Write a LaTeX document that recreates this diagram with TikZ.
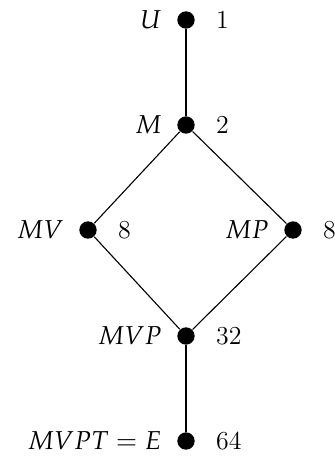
\documentclass[tikz,border=0pt]{standalone}
\usepackage{mathpazo}
\begin{document}
\begin{tikzpicture}[x=0.019cm,y=-0.019cm,semithick,
    pt/.style={circle,fill=black,inner sep=0pt,minimum size=0.33cm},
    every label/.style={inner sep=0pt,font=\fontsize{14}{17}\selectfont}]
    \useasboundingbox (0,0) rectangle (334,457);
    % lattice points
    \node[pt,label={[label distance=8pt]left:$U$},label={[label distance=11pt]right:1}] (U) at (186,20) {};
    \node[pt,label={[label distance=8pt]left:$M$},label={[label distance=11pt]right:2}] (M) at (186,125) {};
    \node[pt,label={[label distance=8pt]left:$MV$},label={[label distance=11pt]right:8}] (MV) at (88,230) {};
    \node[pt,label={[label distance=8pt]left:$MP$},label={[label distance=11pt]right:8}] (MP) at (293,230) {};
    \node[pt,label={[label distance=8pt]left:$MVP$},label={[label distance=11pt]right:32}] (MVP) at (186,336) {};
    \node[pt,label={[label distance=8pt]left:$MVPT=E$},label={[label distance=11pt]right:64}] (E) at (186,441) {};
    % edges
    \draw (U) -- (M);
    \draw (M) -- (MV);
    \draw (M) -- (MP);
    \draw (MV) -- (MVP);
    \draw (MP) -- (MVP);
    \draw (MVP) -- (E);
\end{tikzpicture}
\end{document}
